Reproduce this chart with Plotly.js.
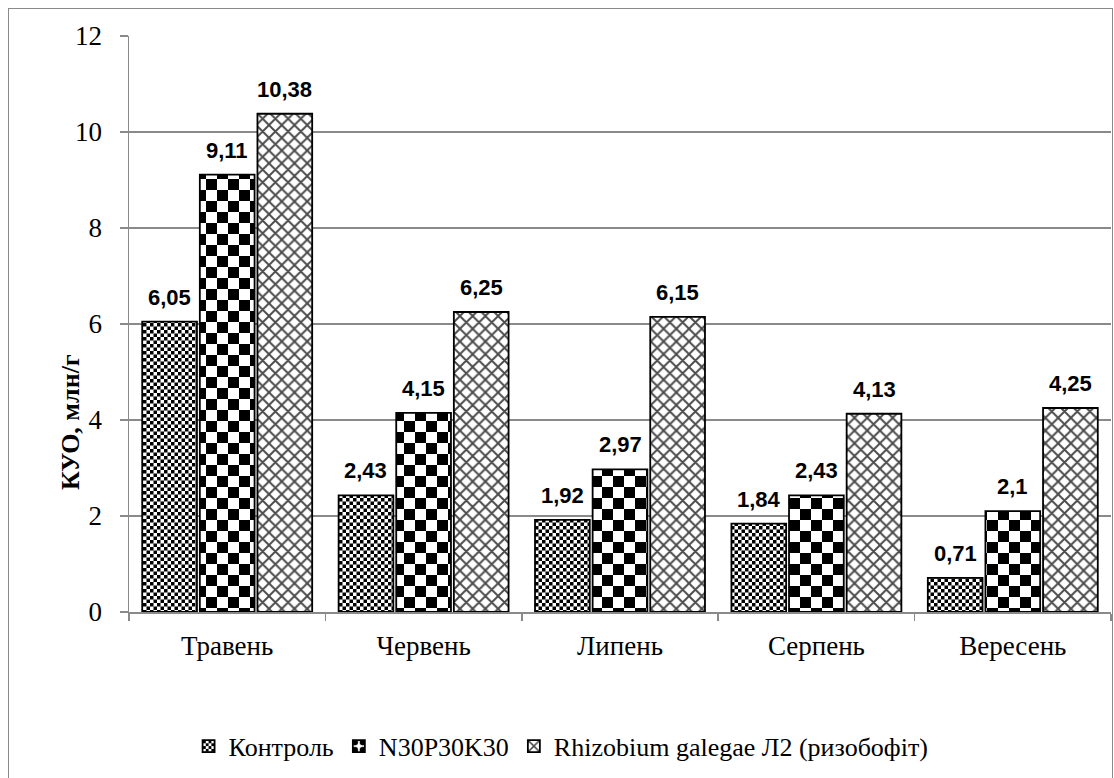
<!DOCTYPE html>
<html>
<head>
<meta charset="utf-8">
<script src="https://cdn.plot.ly/plotly-3.0.1.min.js"></script>
<style>
  html, body { margin: 0; padding: 0; background: #fff; }
  #wrap { position: relative; width: 1114px; height: 778px; overflow: hidden; }
  #chart { width: 1114px; height: 778px; }
  #frame {
    position: absolute; left: 8px; top: 8px; width: 1105px; height: 780px;
    border: 1.5px solid #8a8a8a; pointer-events: none; box-sizing: border-box;
  }
</style>
</head>
<body>
<div id="wrap">
  <div id="chart"></div>
  <div id="frame"></div>
</div>
<script>
// Months of observation
const months = ['Травень', 'Червень', 'Липень', 'Серпень', 'Вересень'];

// Colony-forming units, million per gram of soil
const control = [6.05, 2.43, 1.92, 1.84, 0.71];
const npk = [9.11, 4.15, 2.97, 2.43, 2.1];
const rhizobium = [10.38, 6.25, 6.15, 4.13, 4.25];

const seriesNames = ['Контроль', 'N30P30K30', 'Rhizobium galegae Л2 (ризобофіт)'];
const seriesValues = [control, npk, rhizobium];

const SERIF = '"Liberation Serif", "Times New Roman", serif';
const SANS = '"Liberation Sans", Arial, sans-serif';

// Fill textures: fine checker, coarse checker, grey weave
const FINE = 7, COARSE = 22;
const patterns = [
  { shape: '+', fgcolor: '#000', bgcolor: '#fff', size: FINE, solidity: 0.5 },
  { shape: '.', fgcolor: '#000', bgcolor: '#fff', size: COARSE, solidity: 0.5 },
  { shape: 'x', fgcolor: '#4a4a4a', bgcolor: '#fff', size: 9, solidity: 0.38 }
];

const BARGAP = 0.12;
const BARGROUPGAP = 0.05;

const fmt = v => String(v).replace('.', ',');

const traces = seriesValues.map((vals, k) => ({
  type: 'bar',
  name: seriesNames[k],
  x: months,
  y: vals,
  marker: {
    color: '#fff',
    pattern: patterns[k],
    line: { color: '#000', width: 1.8 }
  },
  hoverinfo: 'skip'
}));

// Value labels above each bar, at the centre of its slot within the group
const nSeries = seriesValues.length;
const slot = (1 - BARGAP) / nSeries;
const annotations = [];
seriesValues.forEach((vals, k) => {
  const off = -(1 - BARGAP) / 2 + slot * (k + 0.5);
  vals.forEach((v, i) => {
    annotations.push({
      xref: 'x', yref: 'y', x: i + off, y: v,
      text: '<b>' + fmt(v) + '</b>',
      showarrow: false, yanchor: 'bottom', yshift: 10,
      font: { family: SANS, size: 22, color: '#000' }
    });
  });
});

// Y-axis title
annotations.push({
  xref: 'paper', yref: 'paper', x: -0.059, y: 0.33,
  text: '<b>КУО, млн/г</b>', textangle: -90, showarrow: false,
  xanchor: 'center', yanchor: 'middle',
  font: { family: SERIF, size: 26, color: '#000' }
});

const layout = {
  width: 1114, height: 778,
  margin: { l: 129, r: 3, t: 36, b: 166 },
  paper_bgcolor: '#fff', plot_bgcolor: '#fff',
  barmode: 'group', bargap: BARGAP, bargroupgap: BARGROUPGAP,
  showlegend: true,
  legend: {
    orientation: 'h', x: 0.44, xanchor: 'center', y: -0.233, yanchor: 'middle',
    font: { family: SERIF, size: 26, color: '#000' },
    itemwidth: 30, traceorder: 'normal'
  },
  xaxis: {
    type: 'category', tickson: 'boundaries',
    ticks: 'outside', ticklen: 7, tickcolor: '#8a8a8a', tickwidth: 1.5,
    showline: true, linecolor: '#8a8a8a', linewidth: 1.5,
    showgrid: false, ticklabelstandoff: 9,
    tickfont: { family: SERIF, size: 27, color: '#000' }
  },
  yaxis: {
    range: [0, 12], dtick: 2, tick0: 0,
    showgrid: true, gridcolor: '#8a8a8a', gridwidth: 1.4,
    showline: true, linecolor: '#8a8a8a', linewidth: 1.5,
    ticks: 'outside', ticklen: 8, tickcolor: '#8a8a8a', tickwidth: 1.5,
    zeroline: false, ticklabelstandoff: 12,
    tickfont: { family: SERIF, size: 27, color: '#000' }
  },
  annotations: annotations
};

// Turn the dot and cross textures into square checkerboards
function checkerize() {
  const NS = 'http://www.w3.org/2000/svg';
  document.querySelectorAll('#chart pattern').forEach(p => {
    const w = parseFloat(p.getAttribute('width'));
    if (w !== FINE && w !== COARSE) return;
    const h = w / 2;
    while (p.firstChild) p.removeChild(p.firstChild);
    const mk = (x, y, s, fill) => {
      const r = document.createElementNS(NS, 'rect');
      r.setAttribute('x', x); r.setAttribute('y', y);
      r.setAttribute('width', s); r.setAttribute('height', s);
      r.setAttribute('fill', fill);
      p.appendChild(r);
    };
    mk(0, 0, w, '#fff');
    mk(0, 0, h, '#000');
    mk(h, h, h, '#000');
  });
}

Plotly.newPlot('chart', traces, layout, { displayModeBar: false, staticPlot: true })
  .then(checkerize);
</script>
</body>
</html>
